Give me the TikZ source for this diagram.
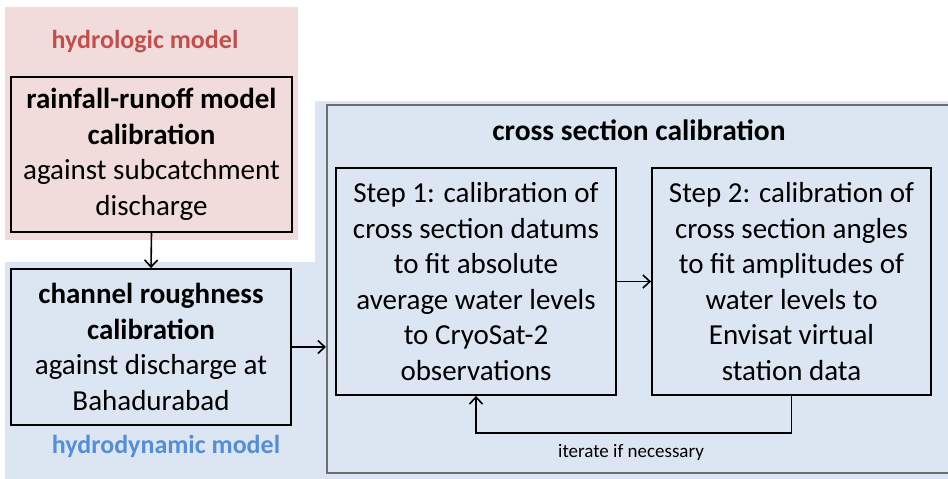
\documentclass[tikz,border=0pt]{standalone}
\usepackage{fontspec}
\setmainfont{Carlito}
\usetikzlibrary{arrows.meta}
\definecolor{pinkbg}{RGB}{242,220,219}
\definecolor{bluebg}{RGB}{220,230,242}
\definecolor{hydred}{RGB}{192,80,77}
\definecolor{hydblue}{RGB}{85,142,213}
\definecolor{outerline}{RGB}{110,110,110}
\tikzset{
  procbox/.style={draw=black, line width=1.8pt, rectangle, align=center, inner sep=0pt,
    font=\fontsize{29}{35.5}\selectfont},
  flow/.style={line width=1.6pt, -{Straight Barb[length=7pt,width=13pt,line width=1.6pt]}},
  grouplabel/.style={font=\fontsize{26}{30}\selectfont\bfseries},
}
\begin{document}
\begin{tikzpicture}[x=1pt,y=-1pt]
\useasboundingbox[fill=white] (0,0) rectangle (948,479);
% backgrounds
\fill[pinkbg] (5,7) rectangle (298,240);
\fill[bluebg] (5,262) -- (315,262) -- (315,101) -- (948,101) -- (948,479) -- (5,479) -- cycle;
% group labels
\node[grouplabel, text=hydred] (hlab) at (145,42) {hydrologic model};
\node[grouplabel, text=hydblue] (dlab) at (166,446) {hydrodynamic model};
% outer box
\node[draw=outerline, line width=2pt, rectangle, minimum width=640, minimum height=368, inner sep=0pt] (outer) at (647,289) {};
\node[font=\fontsize{29.5}{34}\selectfont\bfseries] (title) at (639,130) {cross section calibration};
% process boxes
\node[procbox, minimum width=281, minimum height=155] (rain) at (151.5,154.5)
  {\textbf{rainfall-runoff model}\\ \textbf{calibration}\\ against subcatchment\\ discharge};
\node[procbox, minimum width=280, minimum height=156] (chan) at (151,347)
  {\textbf{channel roughness}\\ \textbf{calibration}\\ against discharge at\\ Bahadurabad};
\node[procbox, minimum width=280, minimum height=227] (s1) at (476,281.5)
  {Step 1: calibration of\\ cross section datums\\ to fit absolute\\ average water levels\\ to CryoSat-2\\ observations};
\node[procbox, minimum width=279, minimum height=227] (s2) at (791.5,281.5)
  {Step 2: calibration of\\ cross section angles\\ to fit amplitudes of\\ water levels to\\ Envisat virtual\\ station data};
% connectors
\draw[flow] (rain.south) -- (chan.north);
\draw[flow] (chan.east) -- (chan.east -| outer.west);
\draw[flow] (s1.east) -- (s2.west);
\coordinate (loopr) at ([yshift=-37pt]s2.south);
\draw[flow] (s2.south) -- (loopr) -| (s1.south);
\node[font=\fontsize{19}{22}\selectfont] (iter) at (631,452) {iterate if necessary};
\end{tikzpicture}
\end{document}
